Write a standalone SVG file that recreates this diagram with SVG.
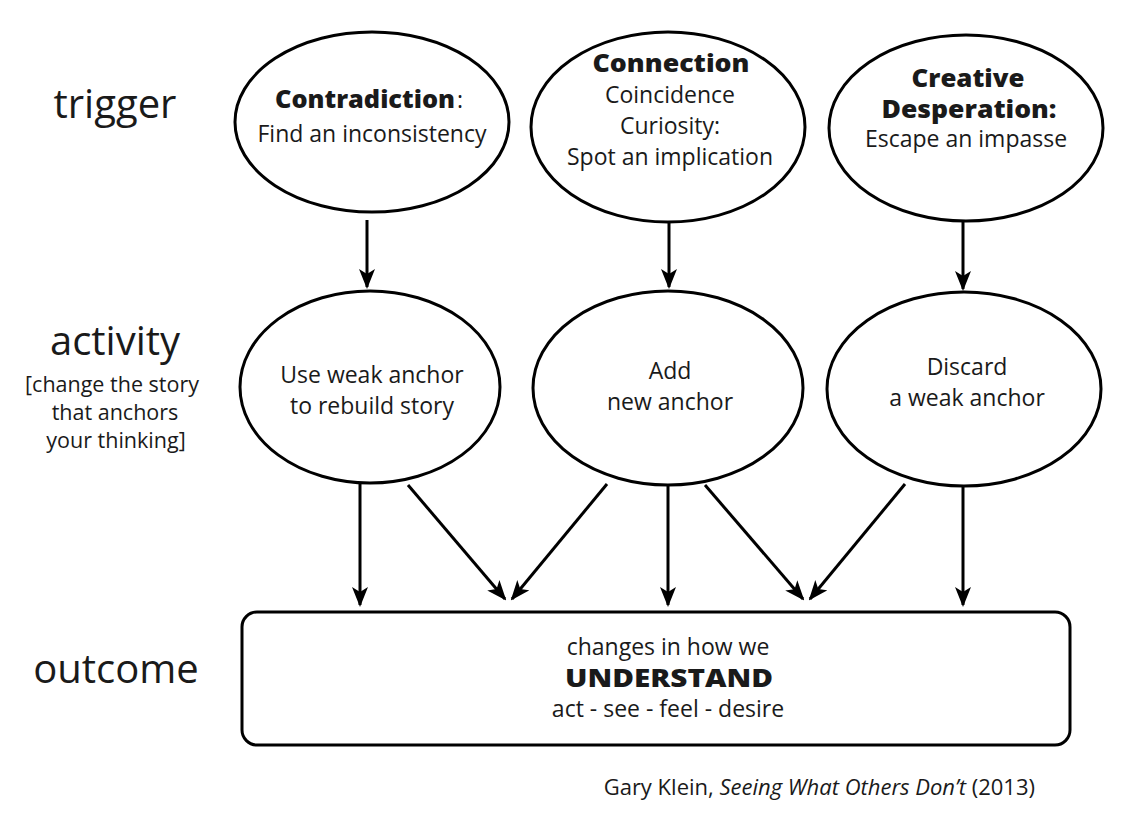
<svg xmlns="http://www.w3.org/2000/svg" width="1123" height="823" viewBox="0 0 1123 823">
<defs>
<style>
text{font-family:"Open Sans",Lato,"Liberation Sans",sans-serif;fill:#1a1a1a;text-anchor:middle}
.n{font-size:23px}
.b{font-weight:800;font-size:24px}
.lab{font-size:40px}
.sub{font-size:21.5px}
.shape{fill:#fff;stroke:#000;stroke-width:3}
.conn line{stroke:#000;stroke-width:3;fill:none}
</style>
<marker id="ah" viewBox="0 0 20 16" refX="18" refY="8" markerWidth="20" markerHeight="16" markerUnits="userSpaceOnUse" orient="auto">
<path d="M0,0 L20,8 L0,16 L5,8 Z" fill="#000"/>
</marker>
</defs>
<rect width="1123" height="823" fill="#fff"/>

<g id="labels">
<text class="lab" x="115" y="118">trigger</text>
<text class="lab" x="115" y="355">activity</text>
<text class="sub" x="112" y="392">[change the story</text>
<text class="sub" x="115" y="420">that anchors</text>
<text class="sub" x="116" y="448">your thinking]</text>
<text class="lab" x="116" y="683">outcome</text>
</g>

<g id="trigger-contradiction">
<ellipse class="shape" cx="372" cy="122" rx="137" ry="90"/>
<text class="b" x="275" y="108" style="text-anchor:start" textLength="180" lengthAdjust="spacingAndGlyphs">Contradiction</text>
<text class="n" x="457" y="108" style="text-anchor:start">:</text>
<text class="n" x="372" y="142">Find an inconsistency</text>
</g>
<g id="trigger-connection">
<ellipse class="shape" cx="668" cy="127" rx="137" ry="95"/>
<text class="b" x="671" y="72" textLength="157" lengthAdjust="spacingAndGlyphs">Connection</text>
<text class="n" x="670" y="103">Coincidence</text>
<text class="n" x="670" y="134">Curiosity:</text>
<text class="n" x="670" y="165">Spot an implication</text>
</g>
<g id="trigger-desperation">
<ellipse class="shape" cx="966" cy="128" rx="137" ry="93"/>
<text class="b" x="968" y="87" textLength="113" lengthAdjust="spacingAndGlyphs">Creative</text>
<text class="b" x="969" y="118" textLength="175" lengthAdjust="spacingAndGlyphs">Desperation:</text>
<text class="n" x="966" y="147">Escape an impasse</text>
</g>

<g id="activity-rebuild">
<ellipse class="shape" cx="370" cy="387" rx="130" ry="96"/>
<text class="n" x="372" y="383">Use weak anchor</text>
<text class="n" x="372" y="414">to rebuild story</text>
</g>
<g id="activity-add">
<ellipse class="shape" cx="668" cy="388" rx="135" ry="97"/>
<text class="n" x="670" y="379">Add</text>
<text class="n" x="670" y="410">new anchor</text>
</g>
<g id="activity-discard">
<ellipse class="shape" cx="964" cy="389" rx="137" ry="97"/>
<text class="n" x="967" y="375">Discard</text>
<text class="n" x="967" y="406">a weak anchor</text>
</g>

<g id="outcome">
<rect class="shape" x="242" y="612" width="828" height="133" rx="15"/>
<text class="n" x="668" y="655">changes in how we</text>
<text class="b" x="669" y="687" textLength="208" lengthAdjust="spacingAndGlyphs">UNDERSTAND</text>
<text class="n" x="668" y="717">act - see - feel - desire</text>
</g>

<g id="connectors" class="conn">
<line x1="367" y1="220" x2="367" y2="287" marker-end="url(#ah)"/>
<line x1="669" y1="222" x2="669" y2="287" marker-end="url(#ah)"/>
<line x1="963" y1="222" x2="963" y2="289" marker-end="url(#ah)"/>
<line x1="360" y1="483" x2="360" y2="605" marker-end="url(#ah)"/>
<line x1="408" y1="485" x2="505" y2="599" marker-end="url(#ah)"/>
<line x1="607" y1="484" x2="512" y2="599" marker-end="url(#ah)"/>
<line x1="668" y1="486" x2="668" y2="605" marker-end="url(#ah)"/>
<line x1="705" y1="485" x2="803" y2="599" marker-end="url(#ah)"/>
<line x1="905" y1="484" x2="810" y2="599" marker-end="url(#ah)"/>
<line x1="963" y1="486" x2="963" y2="605" marker-end="url(#ah)"/>
</g>

<g id="citation">
<text style="text-anchor:end;font-size:22px" x="1035" y="795">Gary Klein, <tspan font-style="italic">Seeing What Others Don’t</tspan> (2013)</text>
</g>
</svg>
